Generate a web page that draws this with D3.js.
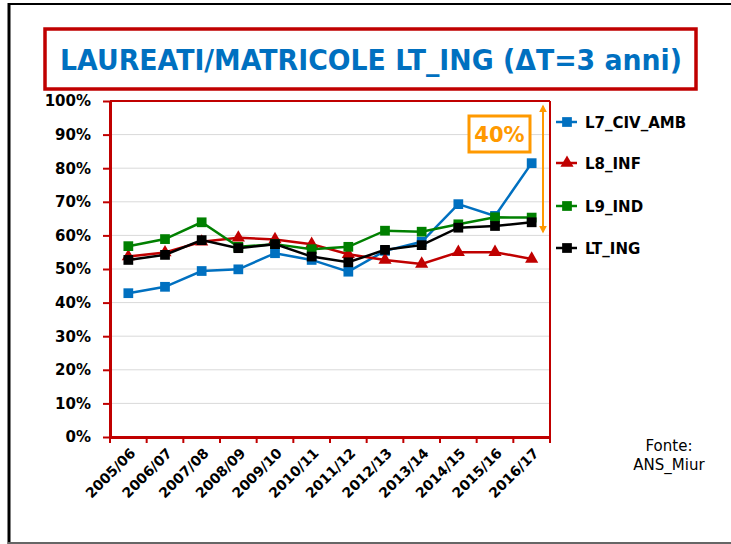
<!DOCTYPE html>
<html lang="it">
<head>
<meta charset="UTF-8">
<title>Laureati/Matricole LT_ING</title>
<script src="https://d3js.org/d3.v7.min.js"></script>
<style>
  body { margin: 0; background: #fff; }
  svg { display: block; }
  text { font-family: "DejaVu Sans", Verdana, sans-serif; }
</style>
</head>
<body>
<svg id="chart" width="731" height="544"></svg>
<script>
// data
const years = ["2005/06", "2006/07", "2007/08", "2008/09", "2009/10", "2010/11",
               "2011/12", "2012/13", "2013/14", "2014/15", "2015/16", "2016/17"];
const l7CivAmb = [42.8, 44.7, 49.4, 49.9, 54.7, 52.7, 49.2, 55.4, 58.1, 69.3, 65.8, 81.5];
const l8Inf    = [53.7, 54.9, 58.1, 59.3, 58.8, 57.4, 54.4, 52.7, 51.5, 55.0, 55.0, 53.0];
const l9Ind    = [56.8, 58.9, 63.9, 56.6, 57.4, 55.9, 56.6, 61.4, 61.1, 63.3, 65.4, 65.3];
const ltIng    = [52.7, 54.2, 58.6, 56.2, 57.4, 53.7, 52.0, 55.7, 57.1, 62.3, 62.8, 63.9];
const yTicks = [0, 10, 20, 30, 40, 50, 60, 70, 80, 90, 100];

const series = [
  { name: "L7_CIV_AMB", values: l7CivAmb, color: "#0070C0", marker: "square" },
  { name: "L8_INF",     values: l8Inf,    color: "#C00000", marker: "triangle" },
  { name: "L9_IND",     values: l9Ind,    color: "#008000", marker: "square" },
  { name: "LT_ING",     values: ltIng,    color: "#000000", marker: "square" }
];

const svg = d3.select("#chart");
const red = "#C00000";
const orange = "#FF9900";

// outer frame
svg.append("line").attr("x1", 9).attr("x2", 9).attr("y1", 3).attr("y2", 544)
  .attr("stroke", "#000").attr("stroke-width", 3);
svg.append("line").attr("x1", 8).attr("x2", 731).attr("y1", 4).attr("y2", 4)
  .attr("stroke", "#000").attr("stroke-width", 2);
svg.append("line").attr("x1", 8).attr("x2", 731).attr("y1", 543).attr("y2", 543)
  .attr("stroke", "#666").attr("stroke-width", 2);

// title box
svg.append("rect").attr("x", 45).attr("y", 29).attr("width", 651).attr("height", 60)
  .attr("fill", "none").attr("stroke", red).attr("stroke-width", 3.5);
svg.append("text").attr("x", 60).attr("y", 70)
  .attr("font-size", 28).attr("font-weight", "bold").attr("fill", "#0070C0")
  .attr("textLength", 622).attr("lengthAdjust", "spacingAndGlyphs")
  .text("LAUREATI/MATRICOLE LT_ING (\u0394T=3 anni)");

const m = { left: 110, right: 550, top: 101, bottom: 437 };
const x = d3.scaleBand().domain(years).range([m.left, m.right]);
const y = d3.scaleLinear().domain([0, 100]).range([m.bottom, m.top]);

// gridlines
svg.append("g").selectAll("line").data(yTicks.slice(1)).join("line")
  .attr("x1", m.left).attr("x2", m.right)
  .attr("y1", d => y(d)).attr("y2", d => y(d))
  .attr("stroke", "#d9d9d9").attr("stroke-width", 1);

// plot border
svg.append("line").attr("x1", m.left).attr("x2", m.right).attr("y1", m.top).attr("y2", m.top)
  .attr("stroke", red).attr("stroke-width", 2);
svg.append("line").attr("x1", m.right).attr("x2", m.right).attr("y1", m.top).attr("y2", m.bottom)
  .attr("stroke", red).attr("stroke-width", 2);

// y axis
const yAxis = svg.append("g").attr("transform", `translate(${m.left},0)`)
  .call(d3.axisLeft(y).tickValues(yTicks).tickFormat(d => d + "%").tickSize(7).tickSizeOuter(0).tickPadding(12));
yAxis.select(".domain").attr("stroke", red).attr("stroke-width", 3);
yAxis.selectAll(".tick line").attr("stroke", red).attr("stroke-width", 2);
yAxis.selectAll("text").attr("font-size", 15).attr("font-weight", "bold")
  .attr("fill", "#000").attr("font-family", "DejaVu Sans");

// x axis with ticks at category boundaries
const xAxis = svg.append("g").attr("transform", `translate(0,${m.bottom})`)
  .call(d3.axisBottom(x).tickSize(0).tickSizeOuter(0).tickPadding(0));
xAxis.select(".domain").attr("stroke", red).attr("stroke-width", 3);
xAxis.selectAll(".tick text")
  .attr("font-size", 14).attr("font-weight", "bold").attr("fill", "#000")
  .attr("font-family", "DejaVu Sans")
  .attr("text-anchor", "end")
  .attr("y", 0).attr("dy", 0)
  .attr("transform", "translate(8,17) rotate(-45)");
const bounds = years.map(d => x(d)).concat([x(years[years.length - 1]) + x.bandwidth()]);
svg.append("g").selectAll("line").data(bounds).join("line")
  .attr("x1", d => d).attr("x2", d => d)
  .attr("y1", m.bottom).attr("y2", m.bottom + 6)
  .attr("stroke", red).attr("stroke-width", 2);

// series
const cx = d => x(d) + x.bandwidth() / 2;
const line = d3.line().x((v, i) => cx(years[i])).y(v => y(v));
const sym = { square: d3.symbol().type(d3.symbolSquare).size(95),
              triangle: d3.symbol().type(d3.symbolTriangle).size(75) };

series.forEach(s => {
  const g = svg.append("g");
  g.append("path").datum(s.values).attr("d", line)
    .attr("fill", "none").attr("stroke", s.color).attr("stroke-width", 2.5);
  g.selectAll("path.mk").data(s.values).join("path").attr("class", "mk")
    .attr("d", sym[s.marker])
    .attr("transform", (v, i) => `translate(${cx(years[i])},${y(v)})`)
    .attr("fill", s.color);
});

// 40% annotation
svg.append("rect").attr("x", 469).attr("y", 116).attr("width", 61).attr("height", 36)
  .attr("fill", "#fff").attr("stroke", orange).attr("stroke-width", 3);
svg.append("text").attr("x", 499.5).attr("y", 142).attr("text-anchor", "middle")
  .attr("font-size", 21).attr("font-weight", "bold").attr("fill", orange).text("40%");
const defs = svg.append("defs");
defs.append("marker").attr("id", "ah").attr("viewBox", "0 0 10 10")
  .attr("refX", 8).attr("refY", 5).attr("markerWidth", 4).attr("markerHeight", 4)
  .attr("orient", "auto-start-reverse")
  .append("path").attr("d", "M0,0 L10,5 L0,10 z").attr("fill", orange);
svg.append("line").attr("x1", 543).attr("x2", 543).attr("y1", 106).attr("y2", 232)
  .attr("stroke", orange).attr("stroke-width", 2)
  .attr("marker-start", "url(#ah)").attr("marker-end", "url(#ah)");

// legend
const legendY = [122, 163, 206, 248];
const lg = svg.append("g").selectAll("g").data(series).join("g")
  .attr("transform", (d, i) => `translate(556,${legendY[i]})`);
lg.append("line").attr("x1", 0).attr("x2", 21).attr("stroke", d => d.color).attr("stroke-width", 2.5);
lg.append("path").attr("d", d => sym[d.marker]())
  .attr("transform", "translate(11,0)").attr("fill", d => d.color);
lg.append("text").attr("x", 29).attr("y", 5.5)
  .attr("font-size", 15).attr("font-weight", "bold").attr("fill", "#000")
  .text(d => d.name);

// source note
svg.append("text").attr("x", 669).attr("y", 451).attr("text-anchor", "middle")
  .attr("font-size", 15).attr("fill", "#000").text("Fonte:");
svg.append("text").attr("x", 669).attr("y", 470).attr("text-anchor", "middle")
  .attr("font-size", 15).attr("fill", "#000").text("ANS_Miur");
</script>
</body>
</html>
